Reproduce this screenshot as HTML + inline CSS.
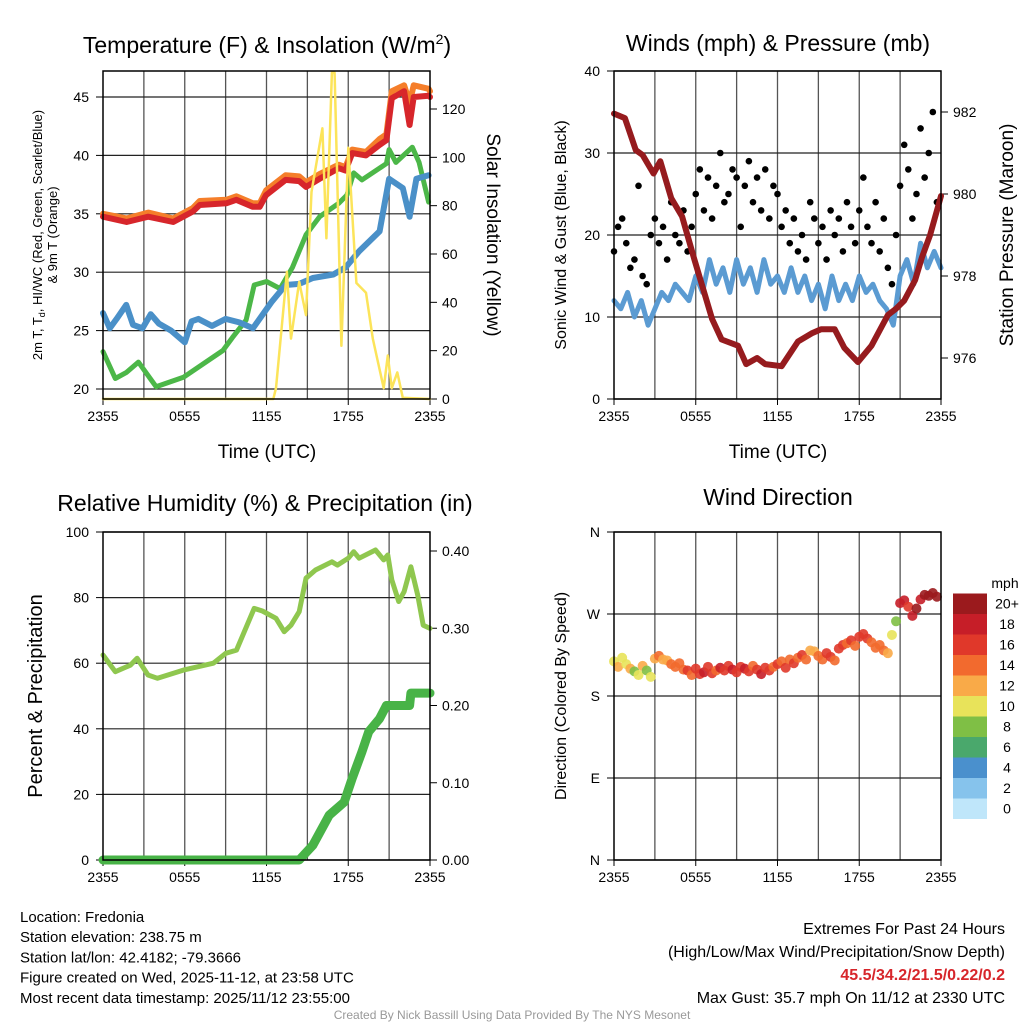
<!DOCTYPE html>
<html><head><meta charset="utf-8"><style>
body{margin:0;background:#fff}
svg{display:block;font-family:"Liberation Sans",Arial,sans-serif}
</style></head><body>
<svg id="c" width="1024" height="1024" viewBox="0 0 1024 1024"></svg>
<script>
// ---- Panel 1 data (hours since 2355 UTC) ----
const redT=[0,1.73,3.32,5.15,6.6,7.1,9.05,9.78,11.0,11.5,11.97,13.4,14.4,14.9,15.9,17.3,17.8,18.3,19.3,20.3,20.8,21.2,22.1,22.5,22.8,23.9,24];
const redV=[34.75,34.3,34.75,34.3,35.2,35.75,35.9,36.2,35.6,35.6,36.6,37.9,37.8,37.3,38.0,38.9,38.7,40.2,40.0,40.9,41.3,44.9,45.5,42.6,45.0,45.1,45.0];
const orgT=[0,1.73,3.32,5.15,6.6,7.1,9.05,9.78,11.0,11.5,11.97,13.4,14.4,14.9,15.9,17.3,17.8,18.3,19.3,20.3,20.8,21.2,22.1,22.5,22.8,23.9,24];
const orgV=[35.0,34.6,35.1,34.6,35.5,36.1,36.2,36.5,35.9,35.9,37.0,38.3,38.2,37.7,38.4,39.2,39.0,40.5,40.3,41.4,41.8,45.5,46.0,44.5,46.0,45.7,45.5];
const grnT=[0,0.9,1.7,2.6,3.9,5.9,8.8,9.5,10.5,11.1,12.0,13.0,13.9,14.9,15.9,17.3,17.9,18.4,19.0,20.8,21.0,21.5,22.7,23.2,23.9];
const grnV=[23.2,20.9,21.4,22.3,20.2,21.0,23.3,24.4,25.9,28.9,29.2,28.6,30.4,33.2,34.75,35.9,36.6,38.5,37.9,39.3,40.5,39.4,40.7,39.4,36.0];
const bluT=[0,0.5,1.0,1.7,2.2,2.9,3.5,4.1,5.0,6.0,6.5,7.0,8.0,9.0,10.0,11.0,12.4,13.4,14.4,15.4,16.9,17.8,18.8,20.3,21.0,22.0,22.5,23.0,23.9];
const bluV=[26.5,25.2,26.0,27.2,25.5,25.2,26.4,25.6,25.0,24.0,25.8,26.0,25.4,26.0,25.7,25.2,27.5,28.9,29.0,29.5,29.8,30.4,31.8,33.5,38.0,37.2,34.75,38.0,38.3];
const solT=[0,12.5,12.7,13.5,13.8,14.4,14.9,15.3,16.1,16.4,16.8,17.0,17.5,18.0,18.6,19.3,19.8,20.6,20.9,21.2,21.6,22.0,24];
const solV=[0,0,4.5,52.6,25,48.5,34.7,85.7,112,66.5,135,135,22,104,48,44,25,4.5,18,4.5,11,0.5,0];
const p1YTicks=[20,25,30,35,40,45];
const p1RTicks=[0,20,40,60,80,100,120];
// ---- Panel 2 data ----
const presT=[0,0.8,1.6,2.1,2.9,3.4,4.2,5.0,5.9,7.2,7.9,9.1,9.7,10.5,11.1,12.3,13.5,14.5,15.2,16.2,16.9,17.9,18.9,20.1,20.7,21.3,22.1,22.6,23.2,24.0];
const presV=[981.96,981.85,981.07,980.95,980.5,980.8,979.9,979.45,978.4,976.95,976.45,976.3,975.85,976.0,975.85,975.8,976.4,976.6,976.7,976.7,976.25,975.9,976.3,977.05,977.2,977.4,977.9,978.45,979.0,979.95];
const windT=[0,0.5,1,1.5,2,2.5,3,3.5,4,4.5,5,5.5,6,6.5,7,7.5,8,8.5,9,9.5,10,10.5,11,11.5,12,12.5,13,13.5,14,14.5,15,15.5,16,16.5,17,17.5,18,18.5,19,19.5,20,20.5,21,21.5,22,22.5,23,23.5,24];
const windV=[12,11,13,10,12,9,11,13,12,14,13,12,15,13,17,14,16,13,17,14,16,13,17,14,15,13,16,13,15,12,14,11,15,12,14,12,15,13,14,12,11,9,15,17,14,19,16,18,16];
const obsT=[0,0.3,0.6,0.9,1.2,1.5,1.8,2.1,2.4,2.7,3.0,3.3,3.6,3.9,4.2,4.5,4.8,5.1,5.4,5.7,6.0,6.3,6.6,6.9,7.2,7.5,7.8,8.1,8.4,8.7,9.0,9.3,9.6,9.9,10.2,10.5,10.8,11.1,11.4,11.7,12.0,12.3,12.6,12.9,13.2,13.5,13.8,14.1,14.4,14.7,15.0,15.3,15.6,15.9,16.2,16.5,16.8,17.1,17.4,17.7,18.0,18.3,18.6,18.9,19.2,19.5,19.8,20.1,20.4,20.7,21.0,21.3,21.6,21.9,22.2,22.5,22.8,23.1,23.4,23.7];
const gustV=[18,21,22,19,16,17,26,15,14,20, 22,19,21,17,24,20,19,23,18,21, 25,28,23,27,22,26,30,24,25,28, 27,21,26,29,24,27,23,28,22,26, 25,21,23,19,22,18,20,17,24,22, 19,21,17,23,20,22,18,24,21,19, 23,27,21,19,24,18,22,16,14,20, 26,31,28,22,25,33,27,30,35,24];
const p2YTicks=[0,10,20,30,40];
const p2RTicks=[976,978,980,982];
// ---- Panel 3 data ----
const rhT=[0,0.9,2.0,2.5,3.3,4.0,5.9,8.1,9.0,9.8,11.1,11.7,12.7,13.3,13.8,14.4,14.9,15.6,16.8,17.2,18.0,18.4,18.8,20.0,20.6,20.9,21.2,21.7,22.1,22.6,23.1,23.5,24.0];
const rhV=[62.5,57.4,59.4,61.5,56.4,55.4,57.9,60.0,63.0,64.0,76.7,75.9,73.7,69.6,71.6,75.7,85.9,88.4,90.9,89.9,92.0,94.0,92.0,94.5,91.5,93.0,85.4,78.8,81.8,89.4,80.8,71.6,70.6];
const prT=[0,14.4,15.4,16.6,17.7,18.3,19.0,19.5,20.3,20.8,22.5,22.6,24];
const prV=[0,0,0.019,0.058,0.075,0.106,0.140,0.166,0.183,0.20,0.20,0.216,0.216];
const p3YTicks=[0,20,40,60,80,100];
const p3RTicks=[0,0.1,0.2,0.3,0.4];
// ---- Panel 4 data ----
const dirV=[218,212,222,215,210,207,203,213,208,201, 221,224,220,219,215,212,216,209,208,203, 210,204,206,212,205,208,211,208,213,209, 206,212,210,207,213,209,204,211,208,212, 215,218,211,220,216,222,225,220,230,229, 224,220,227,223,219,232,236,238,241,235, 245,248,243,239,233,236,230,227,247,262, 282,285,278,268,276,286,291,290,293,289];
const spdV=[11,12,10,11,12,9,10,12,8,11, 13,14,12,13,14,15,14,15,16,15, 16,17,18,16,17,15,18,17,16,18, 17,16,18,17,15,17,18,16,17,15, 16,15,17,14,16,15,16,14,12,13, 14,15,16,17,15,16,17,15,16,14, 16,17,17,15,14,15,14,12,11,8, 18,19,17,18,20,19,21,22,21,20];
const dirTicks=[0,90,180,270,360];
const dirLabels=['N','E','S','W','N'];
const xTickT=[0,6,12,18,24];
const xTickLabels=['2355','0555','1155','1755','2355'];
const cbLabels=['0','2','4','6','8','10','12','14','16','18','20+'];
const cbColors=['#bfe6fa','#86c3ec','#4a90cd','#4aa86c','#7fbf45','#e8e35a','#f9aa48','#f26a2e','#e0382a','#c61e28','#9b1a1d'];

const NS='http://www.w3.org/2000/svg';
const svg=document.getElementById('c');
function el(tag,attrs,parent,txt){const e=document.createElementNS(NS,tag);for(const k in attrs)e.setAttribute(k,attrs[k]);if(txt!==undefined)e.textContent=txt;(parent||svg).appendChild(e);return e;}
function lin(d0,d1,r0,r1){return v=>r0+(v-d0)*(r1-r0)/(d1-d0);}
function poly(xs,ys,fx,fy){return xs.map((t,i)=>fx(t).toFixed(1)+','+fy(ys[i]).toFixed(1)).join(' ');}

function frame(g,L,R,T,B){
  const xs=lin(0,24,L,R);
  for(let h=3;h<24;h+=3){const l=el('line',{x1:xs(h),x2:xs(h),y1:T,y2:B,stroke:'#555','stroke-width':1.3},g);}
  xTickT.forEach((t,i)=>{
    el('line',{x1:xs(t),x2:xs(t),y1:B,y2:B+6,stroke:'#000'},g);
    const tx=el('text',{x:xs(t),y:B+22,'font-size':14,'text-anchor':'middle'},g,xTickLabels[i]);
    
  });
  return xs;
}
function border(g,L,R,T,B){const r=el('rect',{x:L,y:T,width:R-L,height:B-T,fill:'none',stroke:'#000','stroke-width':1.5},g);}
function hgrid(g,L,R,y){const l=el('line',{x1:L,x2:R,y1:y,y2:y,stroke:'#222','stroke-width':1.2},g);}
function leftTicks(g,L,ticks,fy,fmt){ticks.forEach(v=>{el('line',{x1:L-7,x2:L,y1:fy(v),y2:fy(v),stroke:'#000'},g);const t=el('text',{x:L-14,y:fy(v)+5,'font-size':14,'text-anchor':'end'},g,fmt?fmt(v):v);});}
function rightTicks(g,R,ticks,fy,fmt){ticks.forEach(v=>{el('line',{x1:R,x2:R+7,y1:fy(v),y2:fy(v),stroke:'#000'},g);const t=el('text',{x:R+12,y:fy(v)+5,'font-size':14},g,fmt?fmt(v):v);});}
function title(x,y,txt,name){const t=el('text',{x:x,y:y,'font-size':23,'text-anchor':'middle'},svg,txt);return t;}
function vlabel(x,y,txt,size,name){const t=el('text',{x:x,y:y,'font-size':size,'text-anchor':'middle',transform:`rotate(-90 ${x} ${y})`},svg,txt);return t;}
function vlabelR(x,y,txt,size,name){const t=el('text',{x:x,y:y,'font-size':size,'text-anchor':'middle',transform:`rotate(90 ${x} ${y})`},svg,txt);return t;}
function line(g,xs,ys,fx,fy,color,w,name){const p=el('polyline',{points:poly(xs,ys,fx,fy),fill:'none',stroke:color,'stroke-width':w,'stroke-linejoin':'round','stroke-linecap':'round'},g);return p;}

// ===== Panel 1 =====
{
const L=103,R=430,T=71,B=399;
const g=el('g',{});
const fy=lin(20,45,389,97), fr=lin(0,120,399,109);
const xs=frame(g,L,R,T,B);
p1YTicks.forEach(v=>hgrid(g,L,R,fy(v)));
leftTicks(g,L,p1YTicks,fy);rightTicks(g,R,p1RTicks,fr);
line(g,orgT,orgV,xs,fy,'#f57e2a',6,'series-9m-temp');
line(g,redT,redV,xs,fy,'#d7262b',6,'series-2m-temp');
line(g,grnT,grnV,xs,fy,'#4cb748',5,'series-dewpoint');
line(g,bluT,bluV,xs,fy,'#4a90c8',6,'series-wind-chill');
line(g,solT,solV,xs,fr,'#fce45a',2.5,'series-solar-insolation');
border(g,L,R,T,B);
const t=title(267,53,'Temperature (F) & Insolation (W/m','panel1-title');el('tspan',{dy:-9,'font-size':14},t,'2');el('tspan',{dy:9},t,')');
const tl=el('text',{x:267,y:458,'font-size':19,'text-anchor':'middle'},svg,'Time (UTC)');
const a=vlabel(42,235,'2m T, T',13,'y-axis-title');el('tspan',{dy:3,'font-size':9},a,'d');el('tspan',{dy:-3},a,', HI/WC (Red, Green, Scarlet/Blue)');
vlabel(57,235,'& 9m T (Orange)',13,'y-axis-title-line2');
vlabelR(487,235,'Solar Insolation (Yellow)',19,'right-axis-title');
}
// ===== Panel 2 =====
{
const L=614,R=941,T=71,B=399;
const g=el('g',{});
const fy=lin(0,40,399,71), fr=lin(976,982,358,112);
const xs=frame(g,L,R,T,B);
p2YTicks.forEach(v=>hgrid(g,L,R,fy(v)));
leftTicks(g,L,p2YTicks,fy);rightTicks(g,R,p2RTicks,fr);
line(g,windT,windV,xs,fy,'#5b9bd2',5,'series-sonic-wind');
obsT.forEach((t,i)=>{const c=el('circle',{cx:xs(t),cy:fy(gustV[i]),r:3.3,fill:'#000'},g);});
line(g,presT,presV,xs,fr,'#961b1e',6,'series-pressure');
border(g,L,R,T,B);
title(778,51,'Winds (mph) & Pressure (mb)','panel2-title');
const tl=el('text',{x:778,y:458,'font-size':19,'text-anchor':'middle'},svg,'Time (UTC)');
vlabel(566,235,'Sonic Wind & Gust (Blue, Black)',16,'y-axis-title-2');
vlabel(1013,235,'Station Pressure (Maroon)',19,'right-axis-title-2');
}
// ===== Panel 3 =====
{
const L=103,R=430,T=532,B=860;
const g=el('g',{});
const fy=lin(0,100,860,532), fr=lin(0,0.4,860,551);
const xs=frame(g,L,R,T,B);
p3YTicks.forEach(v=>hgrid(g,L,R,fy(v)));
leftTicks(g,L,p3YTicks,fy);rightTicks(g,R,p3RTicks,fr,v=>v.toFixed(2));
line(g,rhT,rhV,xs,fy,'#8fc74f',5,'series-relative-humidity');
line(g,prT,prV,xs,fr,'#48b347',9,'series-precipitation');
border(g,L,R,T,B);
title(265,511,'Relative Humidity (%) & Precipitation (in)','panel3-title');
vlabel(42,696,'Percent & Precipitation',20,'y-axis-title-3');
}
// ===== Panel 4 =====
{
const L=614,R=941,T=532,B=860;
const g=el('g',{});
const fy=lin(0,360,860,532);
const xs=frame(g,L,R,T,B);
dirTicks.forEach(v=>hgrid(g,L,R,fy(v)));
dirTicks.forEach((v,i)=>{el('line',{x1:L-7,x2:L,y1:fy(v),y2:fy(v),stroke:'#000'},g);const t=el('text',{x:L-14,y:fy(v)+5,'font-size':14,'text-anchor':'end'},g,dirLabels[i]);});
obsT.forEach((t,i)=>{const bin=Math.min(10,Math.floor(spdV[i]/2));const c=el('circle',{cx:xs(t),cy:fy(dirV[i]),r:5,fill:cbColors[bin],opacity:0.9},g);});
border(g,L,R,T,B);
title(778,505,'Wind Direction','panel4-title');
vlabel(566,696,'Direction (Colored By Speed)',16,'y-axis-title-4');
const cb=el('g',{});
const m=el('text',{x:1005,y:588,'font-size':14,'text-anchor':'middle'},cb,'mph');
cbColors.forEach((c,i)=>{const y=819-(i+1)*20.5;el('rect',{x:953,y:y,width:34,height:20.5,fill:c},cb);const t=el('text',{x:1007,y:y+15,'font-size':14,'text-anchor':'middle'},cb,cbLabels[i]);});
}
// ===== Footer text =====
{
const info=['Location: Fredonia','Station elevation: 238.75 m','Station lat/lon: 42.4182; -79.3666','Figure created on Wed, 2025-11-12, at 23:58 UTC','Most recent data timestamp: 2025/11/12 23:55:00'];
info.forEach((s,i)=>{const t=el('text',{x:20,y:922+i*20.2,'font-size':15},svg,s);});
const r=[['Extremes For Past 24 Hours',934,'#000',''],['(High/Low/Max Wind/Precipitation/Snow Depth)',957,'#000',''],['45.5/34.2/21.5/0.22/0.2',980,'#d7262b','bold'],['Max Gust: 35.7 mph On 11/12 at 2330 UTC',1003,'#000','']];
r.forEach(a=>{const t=el('text',{x:1005,y:a[1],'font-size':16,'text-anchor':'end',fill:a[2],'font-weight':a[3]||'normal'},svg,a[0]);});
const c=el('text',{x:512,y:1019,'font-size':12,'text-anchor':'middle',fill:'#999'},svg,'Created By Nick Bassill Using Data Provided By The NYS Mesonet');
}
</script>
</body></html>
